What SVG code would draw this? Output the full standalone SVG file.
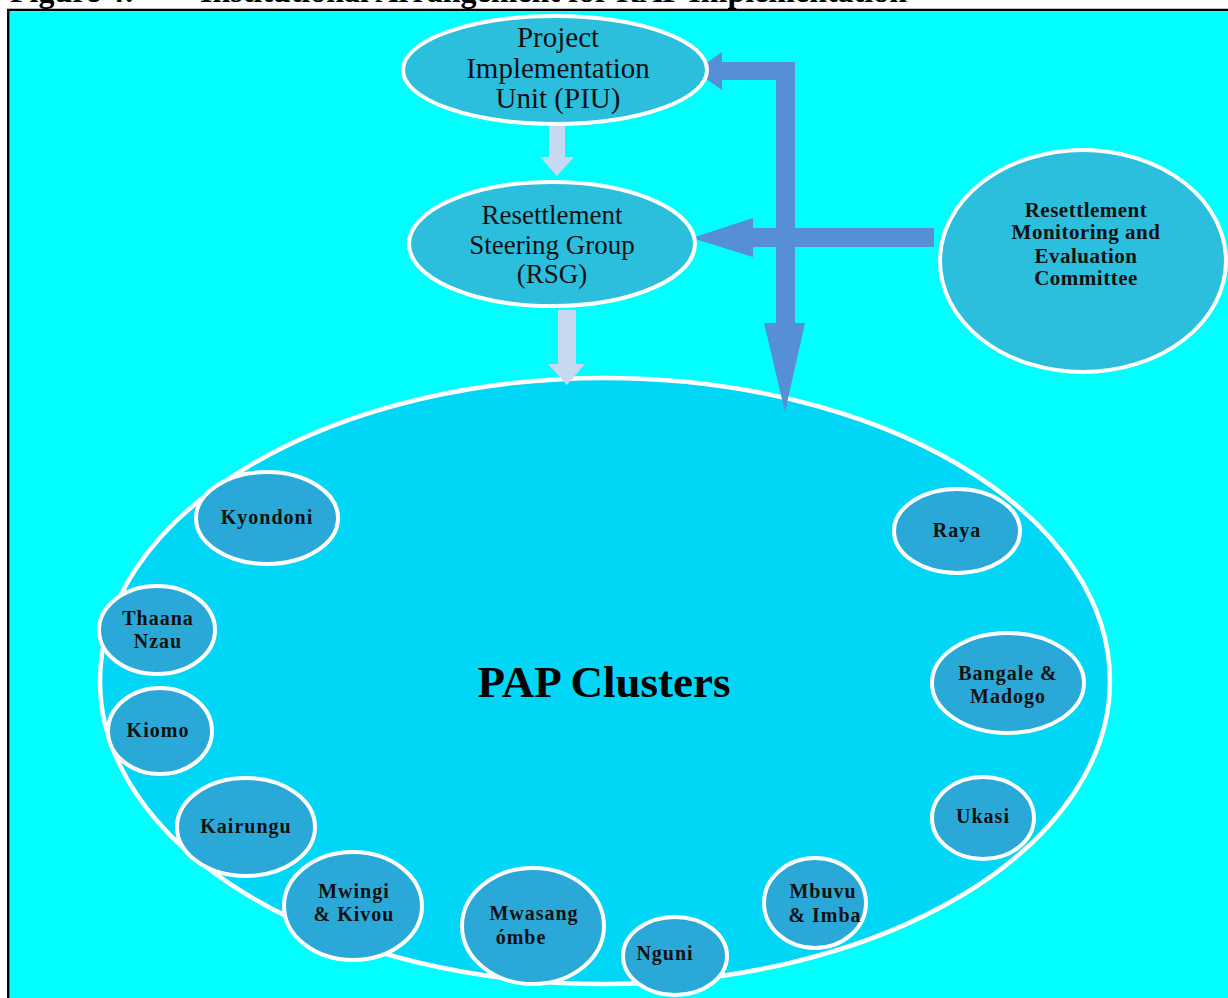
<svg xmlns="http://www.w3.org/2000/svg" width="1228" height="998" viewBox="0 0 1228 998">
<style>
.title{font-family:"Liberation Serif",serif;font-weight:bold;font-size:32px;fill:#000}
.top{fill:#2cbfdd;stroke:#fff;stroke-width:4}
.cl{fill:#2aa9d8;stroke:#fff;stroke-width:4}
.tt{font-family:"Liberation Serif",serif;font-size:29px;fill:#111;text-anchor:middle}
.ts{font-family:"Liberation Serif",serif;font-size:27px;fill:#111;text-anchor:middle}
.tm{font-family:"Liberation Serif",serif;font-weight:bold;font-size:21px;letter-spacing:0.5px;fill:#111;text-anchor:middle}
.tc{font-family:"Liberation Serif",serif;font-weight:bold;font-size:20px;letter-spacing:1px;fill:#111;text-anchor:middle}
.big{fill:#00000000}
.blue{fill:#568fd5}
.light{fill:#c6d9f1}
</style>
<rect x="0" y="0" width="1228" height="998" fill="#fff"/>
<text class="title" x="10" y="2">Figure 4:</text>
<text class="title" x="200" y="2">Institutional Arrangement for RAP Implementation</text>
<rect x="10" y="12" width="1218" height="986" fill="#00ffff"/>
<line x1="7" y1="10" x2="1228" y2="10" stroke="#000" stroke-width="2.5"/>
<line x1="8.3" y1="9" x2="8.3" y2="998" stroke="#000" stroke-width="2.5"/>

<g id="pap-clusters">
<ellipse cx="605" cy="681" rx="505" ry="303" fill="#00d6f5" stroke="#fff" stroke-width="4.5"/>
<text x="604" y="697" font-family="Liberation Serif, serif" font-weight="bold" font-size="45" text-anchor="middle" fill="#000">PAP Clusters</text>
</g>

<g id="connectors">
<path class="light" d="M549 118 L565 118 L565 157 L574 157 L557 176 L540 157 L549 157 Z"/>
<path class="light" d="M558 310 L576 310 L576 364 L585 364 L567 385 L548 364 L558 364 Z"/>
<path class="blue" d="M795 62 L722 62 L722 52 L695 71 L722 90 L722 80 L776 80 L776 323 L764 323 L785 412 L805 323 L795 323 Z"/>
<path class="blue" d="M934 228 L753 228 L753 218 L692 238 L753 257 L753 247 L934 247 Z"/>
</g>

<g id="piu">
<ellipse class="top" cx="555" cy="70" rx="152" ry="54"/>
<text class="tt" x="558" y="47">Project</text>
<text class="tt" x="558" y="78">Implementation</text>
<text class="tt" x="558" y="108">Unit (PIU)</text>
</g>

<g id="rsg">
<ellipse class="top" cx="552" cy="244" rx="143" ry="62"/>
<text class="ts" x="552" y="224">Resettlement</text>
<text class="ts" x="552" y="254">Steering Group</text>
<text class="ts" x="552" y="283">(RSG)</text>
</g>

<g id="rmec">
<ellipse class="top" cx="1083" cy="261" rx="143" ry="111"/>
<text class="tm" x="1086" y="217">Resettlement</text>
<text class="tm" x="1086" y="239">Monitoring and</text>
<text class="tm" x="1086" y="263">Evaluation</text>
<text class="tm" x="1086" y="285">Committee</text>
</g>

<g id="kyondoni">
<ellipse class="cl" cx="267" cy="518" rx="71" ry="46"/>
<text class="tc" x="267" y="524">Kyondoni</text>
</g>
<g id="thaana-nzau">
<ellipse class="cl" cx="157" cy="630" rx="58" ry="44"/>
<text class="tc" x="158" y="625">Thaana</text>
<text class="tc" x="158" y="648">Nzau</text>
</g>
<g id="kiomo">
<ellipse class="cl" cx="160" cy="731" rx="52" ry="43"/>
<text class="tc" x="158" y="737">Kiomo</text>
</g>
<g id="kairungu">
<ellipse class="cl" cx="246" cy="827" rx="69" ry="49"/>
<text class="tc" x="246" y="833">Kairungu</text>
</g>
<g id="mwingi-kivou">
<ellipse class="cl" cx="353" cy="906" rx="69" ry="54"/>
<text class="tc" x="354" y="898">Mwingi</text>
<text class="tc" x="354" y="921">&amp; Kivou</text>
</g>
<g id="mwasangombe">
<ellipse class="cl" cx="533" cy="926" rx="71" ry="58"/>
<text class="tc" x="534" y="920">Mwasang</text>
<text class="tc" x="521" y="944">ómbe</text>
</g>
<g id="nguni">
<ellipse class="cl" cx="675" cy="956" rx="52" ry="39"/>
<text class="tc" x="665" y="960">Nguni</text>
</g>
<g id="mbuvu-imba">
<ellipse class="cl" cx="815" cy="903" rx="51" ry="45"/>
<text class="tc" x="823" y="898">Mbuvu</text>
<text class="tc" x="825" y="922">&amp; Imba</text>
</g>
<g id="ukasi">
<ellipse class="cl" cx="983" cy="818" rx="51" ry="41"/>
<text class="tc" x="983" y="823">Ukasi</text>
</g>
<g id="bangale-madogo">
<ellipse class="cl" cx="1008" cy="683" rx="76" ry="50"/>
<text class="tc" x="1008" y="680">Bangale &amp;</text>
<text class="tc" x="1008" y="703">Madogo</text>
</g>
<g id="raya">
<ellipse class="cl" cx="957" cy="531" rx="63" ry="42"/>
<text class="tc" x="957" y="537">Raya</text>
</g>
</svg>
